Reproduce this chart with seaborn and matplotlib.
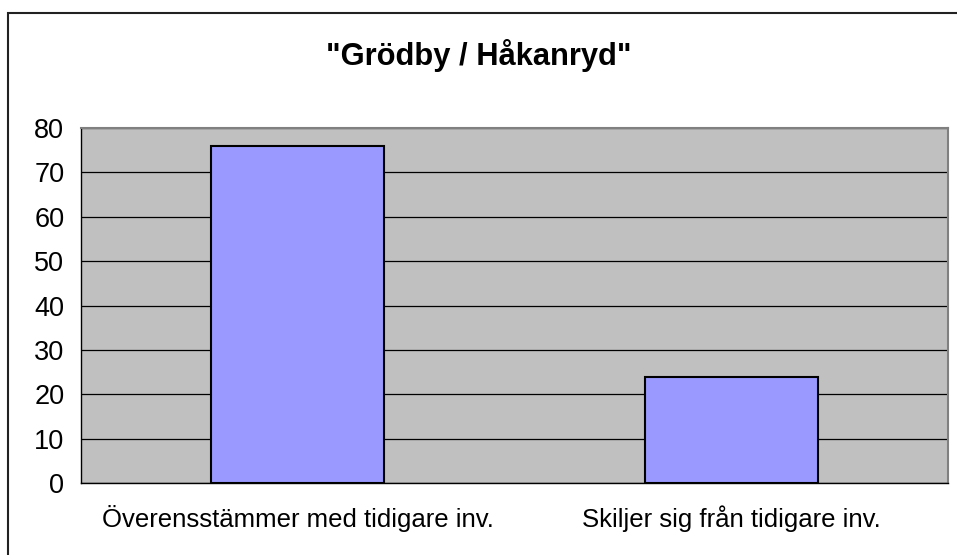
import matplotlib
matplotlib.use("Agg")
import matplotlib.pyplot as plt
import seaborn as sns
import pandas as pd
from matplotlib.patches import Rectangle

# chart data
categories = ["Överensstämmer med tidigare inv.", "Skiljer sig från tidigare inv."]
values = [76, 24]
y_ticks = [0, 10, 20, 30, 40, 50, 60, 70, 80]
title = '"Grödby / Håkanryd"'

sns.set_style("white")
plt.rcParams["font.family"] = ["Liberation Sans", "DejaVu Sans"]
plt.rcParams["text.color"] = "black"
plt.rcParams["xtick.color"] = "black"
plt.rcParams["ytick.color"] = "black"

df = pd.DataFrame({"kategori": categories, "antal": values})

fig = plt.figure(figsize=(9.57, 5.55), dpi=100)
ax = fig.add_axes([81 / 957, 1 - 483 / 555, 867 / 957, 355 / 555])
ax.set_facecolor("#C0C0C0")

sns.barplot(data=df, x="kategori", y="antal", color="#9999FF",
            edgecolor="black", linewidth=1.5, width=0.40, saturation=1, ax=ax, zorder=3)

ax.set_xlim(-0.5, 1.5)
ax.set_ylim(0, 80)
ax.set_yticks(y_ticks)
ax.yaxis.grid(True, color="black", linewidth=0.9, zorder=1)
ax.set_axisbelow(True)
ax.set_xlabel("")
ax.set_ylabel("")

# x ticks at category boundaries, labels centred
ax.set_xticks([-0.5, 0.5, 1.5], minor=True)
ax.tick_params(axis="x", which="minor", length=6, width=1, color="black", direction="out")
ax.tick_params(axis="x", which="major", length=0, pad=31.5, labelsize=18.5)
ax.tick_params(axis="y", length=6, width=1, color="black", direction="out", pad=6, labelsize=19.5)
# put both category labels on the same baseline
for lab in ax.get_xticklabels():
    lab.set_verticalalignment("baseline")

for side in ["top", "right"]:
    ax.spines[side].set_color("#808080")
    ax.spines[side].set_linewidth(1.5)
for side in ["left", "bottom"]:
    ax.spines[side].set_color("black")
    ax.spines[side].set_linewidth(1)

fig.text(0.5, 1 - 55 / 555, title, ha="center", va="center",
         fontsize=22.2, fontweight="bold")

# outer chart border (only top and left edges fall inside the image)
fig.patches.append(Rectangle((8 / 957, -0.05), 1.0, 1 - 13 / 555 + 0.05,
                             transform=fig.transFigure, fill=False,
                             edgecolor="#222222", linewidth=1.5))

fig.savefig("out.png", dpi=100)
